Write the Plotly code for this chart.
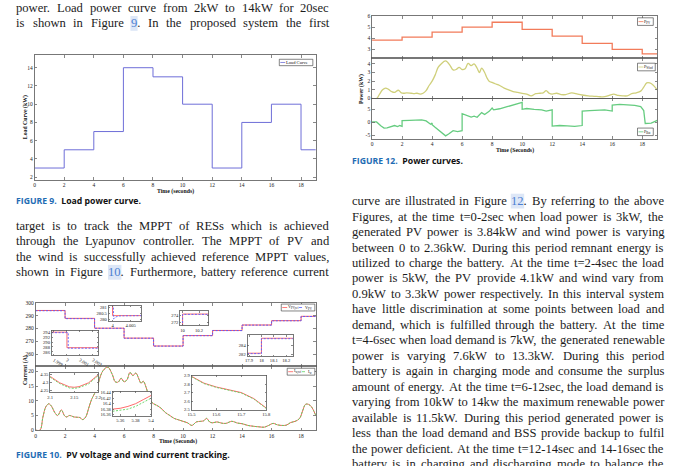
import plotly.graph_objects as go

W, H = 680, 466
SERIF = "Liberation Serif, Times New Roman, serif"
SANS = "Open Sans, Liberation Sans, sans-serif"

# ---------------- data ----------------
step_t = [0, 2, 4, 6, 8, 10, 12, 14, 16, 18, 19]
load_kw = [3, 5, 7, 14, 13, 10, 3, 8, 10, 5, 5]

vpv_ref = [294.2, 288.0, 280.3, 272.5, 266.3, 274.5, 278.5, 282.8, 286.2, 289.6, 289.6]
vpv_meas = [294.0, 287.8, 280.2, 272.4, 266.2, 274.4, 278.4, 282.7, 286.1, 289.5, 289.5]

iw_t = [0, 0.3, 0.5, 0.7, 0.9, 1.1, 1.3, 1.5, 1.75, 1.95, 2.1, 2.3, 2.6, 2.8, 3.0, 3.2, 3.4, 3.6,
        3.8, 4.0, 4.2, 4.4, 4.6, 4.9, 5.2, 5.4, 5.6, 5.8, 6.0, 6.2, 6.4, 6.6, 6.8, 7.0, 7.15, 7.3,
        7.5, 7.65, 7.8, 8.0, 8.2, 8.5, 8.8, 9.1, 9.4, 9.7, 10.0, 10.3, 10.6, 10.9, 11.2, 11.4, 11.6,
        11.8, 12.0, 12.3, 12.6, 12.9, 13.3, 13.7, 14.0, 14.4, 14.8, 15.2, 15.5, 15.8, 16.1, 16.4,
        16.7, 17.0, 17.3, 17.6, 17.9, 18.1, 18.3, 18.5, 18.7, 19.0]
iw_ref = [0, 0, 4.5, 8.0, 9.0, 8.0, 6.0, 5.0, 6.9, 5.0, 4.5, 5.0, 4.5, 4.4, 4.3, 3.6, 4.5, 7.5,
          10.5, 12.5, 15.0, 18.5, 20.5, 21.5, 19.0, 16.5, 16.4, 17.7, 16.5, 17.2, 19.7, 18.6, 19.5,
          17.5, 16.0, 16.7, 14.5, 12.0, 10.0, 9.0, 8.5, 7.5, 6.0, 5.0, 4.0, 3.5, 3.0, 2.5, 1.6, 2.8,
          3.0, 3.2, 4.0, 2.8, 2.5, 2.8, 2.4, 2.3, 3.0, 2.4, 2.2, 1.6, 1.3, 1.1, 1.0, 1.6, 2.3, 1.8,
          1.6, 1.7, 2.6, 3.0, 4.0, 6.5, 8.8, 8.8, 8.0, 5.0]

ppv_kw = [3.84, 4.1, 4.56, 5.0, 5.45, 4.8, 4.2, 3.55, 3.0, 2.6, 2.6]
pwind_kw = [0, 0, 0.5, 1.0, 1.2, 1.05, 0.8, 0.7, 0.95, 0.65, 0.6, 0.65, 0.6, 0.55, 0.6, 0.5, 0.6,
            0.9, 1.5, 2.0, 2.7, 3.6, 4.0, 4.35, 3.8, 3.3, 3.35, 3.6, 3.35, 3.45, 4.05, 3.8, 4.0,
            3.5, 3.0, 3.5, 3.0, 2.4, 2.0, 1.85, 1.7, 1.5, 1.2, 1.0, 0.8, 0.7, 0.6, 0.5, 0.3, 0.55,
            0.6, 0.65, 0.9, 0.6, 0.5, 0.6, 0.45, 0.45, 0.65, 0.5, 0.4, 0.3, 0.25, 0.2, 0.2, 0.35,
            0.5, 0.35, 0.3, 0.3, 0.55, 0.65, 0.85, 1.3, 1.8, 1.8, 1.6, 1.0]
pbat_t = [0, 0.3, 0.6, 0.8, 1.0, 1.3, 1.5, 1.7, 1.85, 2.0, 2.0, 2.5, 3.0, 3.3, 3.6, 3.9, 4.0, 4.0,
          4.2, 4.5, 4.7, 4.9, 5.1, 5.4, 5.7, 6.0, 6.0, 6.3, 6.6, 6.8, 7.0, 7.3, 7.5, 7.8, 8.0, 8.1,
          8.5, 9.0, 9.5, 10.0, 10.0, 10.3, 10.8, 11.3, 11.6, 12.0, 12.0, 12.5, 13.0, 13.5, 14.0,
          14.0, 14.5, 15.0, 15.5, 16.0, 16.0, 16.5, 17.0, 17.5, 17.9, 18.1, 18.2, 18.6, 19.0]
pbat_kw = [0.1, 0.1, -1.5, -2.3, -2.2, -1.8, -1.3, -1.7, -1.3, -1.6, 0.6, 0.7, 0.8, 0.9, 0.5, -0.8,
           -0.3, -1.0, -2.0, -3.5, -4.5, -5.3, -4.6, -3.3, -3.7, -3.3, 3.3, 2.5, 2.0, 2.3, 1.9, 3.7,
           3.0, 4.2, 5.5, 4.8, 5.2, 6.0, 7.0, 7.7, 5.0, 5.3, 5.0, 4.8, 4.3, 4.8, -1.5, -1.3, -1.4,
           -1.6, -1.3, 4.3, 4.5, 4.7, 4.8, 4.3, 6.6, 6.9, 6.8, 6.5, 6.0, 4.5, -0.5, -0.4, 0.7]

# zoom insets
insA_t_ref = [1.998, 2.0, 2.0, 2.003]
insA_v_ref = [294.0, 294.0, 287.7, 287.7]
insA_t_meas = [1.998, 2.0001, 2.0001, 2.003]
insA_v_meas = [293.8, 293.8, 287.5, 287.5]
insB_t_ref = [3.998, 4.0, 4.0, 4.009]
insB_v_ref = [281.2, 281.2, 280.3, 280.3]
insB_t_meas = [3.998, 4.0002, 4.0003, 4.001, 4.002, 4.009]
insB_v_meas = [281.2, 281.2, 280.02, 280.2, 280.28, 280.3]
insC_t = [9.9, 10.0, 10.0, 10.4]
insC_v_ref = [266.3, 266.3, 274.5, 274.5]
insC_v_meas = [266.2, 266.2, 274.4, 274.4]
insD_t = [17.8, 18.0, 18.0, 18.3]
insD_v_ref = [282.2, 282.2, 285.8, 285.8]
insD_v_meas = [282.1, 282.1, 285.7, 285.7]
insE_t = [2.1, 2.12, 2.14, 2.15, 2.16, 2.18, 2.2]
insE_ref = [4.34, 4.30, 4.275, 4.272, 4.276, 4.30, 4.35]
insE_meas = [4.335, 4.295, 4.268, 4.265, 4.27, 4.293, 4.345]
insF_t = [5.35, 5.36, 5.37, 5.38, 5.39, 5.40]
insF_ref = [16.38, 16.383, 16.39, 16.40, 16.415, 16.43]
insF_meas = [16.372, 16.375, 16.38, 16.39, 16.405, 16.42]
insG_t = [15.5, 15.55, 15.6, 15.65, 15.7, 15.75, 15.8]
insG_ref = [2.89, 2.81, 2.765, 2.735, 2.70, 2.63, 2.52]
insG_meas = [2.885, 2.805, 2.76, 2.73, 2.695, 2.625, 2.515]

time_ticks = [0, 2, 4, 6, 8, 10, 12, 14, 16, 18]
time_ticktext = ["0", "2", "4", "6", "8", "10", "12", "14", "16", "18"]

# text
top_left_lines = [
    "power. Load power curve from 2kW to 14kW for 20sec",
    "is shown in Figure {9}. In the proposed system the first",
]
mid_left_lines = [
    "target is to track the MPPT of RESs which is achieved",
    "through the Lyapunov controller. The MPPT of PV and",
    "the wind is successfully achieved reference MPPT values,",
    "shown in Figure {10}. Furthermore, battery reference current",
]
right_lines = [
    "curve are illustrated in Figure {12}. By referring to the above",
    "Figures, at the time t=0-2sec when load power is 3kW, the",
    "generated PV power is 3.84kW and wind power is varying",
    "between 0 to 2.36kW. During this period remnant energy is",
    "utilized to charge the battery. At the time t=2-4sec the load",
    "power is 5kW, the PV provide 4.1kW and wind vary from",
    "0.9kW to 3.3kW power respectively. In this interval system",
    "have little discrimination at some points between load and",
    "demand, which is fulfilled through the battery. At the time",
    "t=4-6sec when load demand is 7kW, the generated renewable",
    "power is varying 7.6kW to 13.3kW. During this period",
    "battery is again in charging mode and consume the surplus",
    "amount of energy. At the time t=6-12sec, the load demand is",
    "varying from 10kW to 14kw the maximum renewable power",
    "available is 11.5kW. During this period generated power is",
    "less than the load demand and BSS provide backup to fulfil",
    "the power deficient. At the time t=12-14sec and 14-16sec the",
    "battery is in charging and discharging mode to balance the",
]

# ---------------- helpers ----------------
def px(x):
    return x / W


def py(y):
    return 1 - y / H


TIMES_W = {' ': 250, '!': 333, ',': 250, '-': 333, '.': 250, '/': 278, ':': 278, ';': 278,
           '=': 564, '(': 333, ')': 333, '?': 444,
           'A': 722, 'B': 667, 'C': 667, 'D': 722, 'E': 611, 'F': 556, 'G': 722, 'H': 722,
           'I': 333, 'J': 389, 'K': 722, 'L': 611, 'M': 889, 'N': 722, 'O': 722, 'P': 556,
           'Q': 722, 'R': 667, 'S': 556, 'T': 611, 'U': 722, 'V': 722, 'W': 944, 'X': 722,
           'Y': 722, 'Z': 611,
           'a': 444, 'b': 500, 'c': 444, 'd': 500, 'e': 444, 'f': 333, 'g': 500, 'h': 500,
           'i': 278, 'j': 278, 'k': 500, 'l': 278, 'm': 778, 'n': 500, 'o': 500, 'p': 500,
           'q': 500, 'r': 333, 's': 389, 't': 278, 'u': 500, 'v': 500, 'w': 722, 'x': 500,
           'y': 500, 'z': 444}


def tw(s, size):
    return sum(TIMES_W.get(c, 500) for c in s) / 1000.0 * size


annotations = []
shapes = []
BODY = 12.6
TXT_COL = "#1c1c1c"
LINK_COL = "#4c7fd2"
LINK_BG = "#dde7f7"


def add_text_line(text, x0, x1, yc, justify=True):
    words = text.split(" ")
    plain = [w.replace("{", "").replace("}", "") for w in words]
    widths = [tw(w, BODY) for w in plain]
    if justify and len(words) > 1:
        gap = (x1 - x0 - sum(widths)) / (len(words) - 1)
    else:
        gap = tw(" ", BODY)
    x = x0
    for w, pw_, wd in zip(words, plain, widths):
        if "{" in w:
            pre, rest = w.split("{")
            num, post = rest.split("}")
            xn = x + tw(pre, BODY)
            wn = tw(num, BODY)
            shapes.append(dict(type="rect", xref="paper", yref="paper", x0=px(xn - 0.5),
                               x1=px(xn + wn + 0.5), y0=py(yc + 7.5), y1=py(yc - 7.5),
                               fillcolor=LINK_BG, line=dict(width=0), layer="below"))
            txt = pre + f"<span style='color:{LINK_COL}'>{num}</span>" + post
        else:
            txt = w
        annotations.append(dict(x=px(x), y=py(yc), xref="paper", yref="paper", xanchor="left",
                                yanchor="middle", text=txt, showarrow=False, borderpad=0,
                                borderwidth=0, font=dict(family=SERIF, size=BODY, color=TXT_COL)))
        x += wd + gap


def add_label(x, y, text, size=5.5, xanchor="center", yanchor="middle", angle=0, bold=False,
              family=SERIF, color="#111"):
    if bold:
        text = f"<b>{text}</b>"
    annotations.append(dict(x=px(x), y=py(y), xref="paper", yref="paper", xanchor=xanchor,
                            yanchor=yanchor, text=text, showarrow=False, textangle=angle,
                            borderpad=0, borderwidth=0,
                            font=dict(family=family, size=size, color=color)))


fig = go.Figure()
layout_axes = {}
AX_COL = "#555"


def add_axes(i, box, xr, yr, xticks=None, xtext=None, yticks=None, ytext=None,
             show_xlab=True, show_ylab=True, font=5.5, ticklen=2.5):
    xl, xr_, yt, yb = box
    sfx = "" if i == 1 else str(i)
    common = dict(showline=True, linecolor=AX_COL, linewidth=0.8, mirror="ticks",
                  ticks="inside", ticklen=ticklen, tickwidth=0.7, tickcolor=AX_COL,
                  showgrid=False, zeroline=False, fixedrange=True,
                  tickfont=dict(family=SERIF, size=font, color="#222"))
    layout_axes["xaxis" + sfx] = dict(common, domain=[px(xl), px(xr_)], range=xr,
                                      anchor="y" + sfx, tickmode="array",
                                      tickvals=xticks, ticktext=xtext,
                                      showticklabels=show_xlab)
    layout_axes["yaxis" + sfx] = dict(common, domain=[py(yb), py(yt)], range=yr,
                                      anchor="x" + sfx, tickmode="array",
                                      tickvals=yticks, ticktext=ytext,
                                      showticklabels=show_ylab)
    return ("x" + sfx, "y" + sfx)


def line(ax, x, y, color, width=1.0, dash="solid", shape="linear"):
    fig.add_trace(go.Scatter(x=x, y=y, mode="lines", xaxis=ax[0], yaxis=ax[1],
                             line=dict(color=color, width=width, dash=dash, shape=shape),
                             showlegend=False, hoverinfo="skip"))


def legend_box(x0, x1, y0, y1, items, size=4.6):
    shapes.append(dict(type="rect", xref="paper", yref="paper", x0=px(x0), x1=px(x1),
                       y0=py(y1), y1=py(y0), fillcolor="white",
                       line=dict(color="#333", width=0.6), layer="above"))
    n = len(items)
    seg = (x1 - x0) / n
    for k, (label, color, dash) in enumerate(items):
        sx = x0 + k * seg + 1
        ym = (y0 + y1) / 2
        shapes.append(dict(type="line", xref="paper", yref="paper", x0=px(sx),
                           x1=px(sx + 5), y0=py(ym), y1=py(ym),
                           line=dict(color=color, width=0.8, dash=dash), layer="above"))
        add_label(sx + 6, ym, label, size=size, xanchor="left")


RED = "#ff5a5a"
BLUE = "#5b5bff"
GREEN = "#5fd35f"
LOADC = "#6e6ed8"
PV_C = "#f27b5a"
WIND_C = "#cfcf7a"
BAT_C = "#66cc80"
DASH = "2px,1.5px"

# ---------------- Figure 9 ----------------
ax9 = add_axes(1, (31, 316, 53, 179), [0, 19], [1.72, 15.36], time_ticks, time_ticktext,
               [2, 4, 6, 8, 10, 12, 14], ["2", "4", "6", "8", "10", "12", "14"])
line(ax9, step_t, load_kw, LOADC, 1.0, shape="hv")
legend_box(279, 313, 57, 63.5, [("Load Curve", LOADC, "solid")])
add_label(22, 116, "Load Curve (kW)", size=5.8, angle=-90, bold=True)
add_label(174, 190.5, "Time (seconds)", size=5.8, bold=True)

# ---------------- Figure 10 ----------------
ax10a = add_axes(2, (32, 316, 304, 368), [0, 19], [250.4, 300], time_ticks, time_ticktext,
                 [260, 270, 280, 290, 300], ["260", "270", "280", "290", "300"], show_xlab=False)
line(ax10a, step_t, vpv_ref, RED, 1.0, shape="hv")
line(ax10a, step_t, vpv_meas, BLUE, 1.0, dash=DASH, shape="hv")
ax10b = add_axes(3, (32, 316, 368, 432.7), [0, 19], [0, 21.8], time_ticks, time_ticktext,
                 [0, 5, 10, 15, 20], ["0", "5", "10", "15", "20"])
line(ax10b, iw_t, iw_ref, RED, 1.0, shape="spline")
line(ax10b, iw_t, iw_ref, GREEN, 1.0, dash=DASH, shape="spline")
legend_box(281, 315, 305, 312, [("V<sub>PV,ref</sub>", RED, "solid"), ("V<sub>PV</sub>", BLUE, "dot")], size=4.2)
legend_box(287, 315, 370, 377, [("I<sub>w,ref</sub>", RED, "solid"), ("I<sub>w</sub>", GREEN, "dot")], size=4.2)
add_label(22, 372, "Current (A)", size=5.8, angle=-90, bold=True)
add_label(176, 444.5, "Time (Seconds)", size=5.8, bold=True)

IF = 4.6
insets = [
    (4, (48.3, 95.7, 331.7, 356.7), [1.99882, 2.00243], [284.7, 294.7],
     [1.999, 2.0, 2.001, 2.002], ["1.999", "2", "2.001", "2.002"],
     [286, 288, 290, 292, 294], ["286", "288", "290", "292", "294"],
     (insA_t_ref, insA_v_ref, insA_t_meas, insA_v_meas), BLUE),
    (5, (106, 139.3, 306.7, 322.3), [3.9989, 4.008], [279.83, 281.14],
     [4.0, 4.005], ["4", "4.005"], [280, 280.5, 281], ["280", "280.5", "281"],
     (insB_t_ref, insB_v_ref, insB_t_meas, insB_v_meas), BLUE),
    (6, (178.3, 207.3, 312.3, 326.7), [9.968, 10.316], [271.2, 275.3],
     [10.0, 10.2], ["10", "10.2"], [272, 274], ["272", "274"],
     (insC_t, insC_v_ref, insC_t, insC_v_meas), BLUE),
    (7, (246.7, 292.7, 336.7, 357.7), [17.887, 18.253], [281.5, 286.5],
     [17.9, 18.0, 18.1, 18.2], ["17.9", "18", "18.1", "18.2"], [282, 284], ["282", "284"],
     (insD_t, insD_v_ref, insD_t, insD_v_meas), BLUE),
    (8, (46.7, 95.5, 375, 394.5), [2.1, 2.2], [4.24, 4.36],
     [2.1, 2.15, 2.2], ["2.1", "2.15", "2.2"], [4.25, 4.3, 4.35], ["4.25", "4.3", "4.35"],
     (insE_t, insE_ref, insE_t, insE_meas), GREEN),
    (9, (110, 149, 393.5, 418.3), [5.35, 5.4], [16.355, 16.445],
     [5.36, 5.38, 5.4], ["5.36", "5.38", "5.4"], [16.36, 16.38, 16.4, 16.42, 16.44],
     ["16.36", "16.38", "16.4", "16.42", "16.44"],
     (insF_t, insF_ref, insF_t, insF_meas), GREEN),
    (10, (190, 265.7, 377.3, 412), [15.5, 15.8], [2.5, 2.9],
     [15.5, 15.6, 15.7, 15.8], ["15.5", "15.6", "15.7", "15.8"],
     [2.5, 2.6, 2.7, 2.8, 2.9], ["2.5", "2.6", "2.7", "2.8", "2.9"],
     (insG_t, insG_ref, insG_t, insG_meas), GREEN),
]
for idx, box, xr, yr, xt, xtt, yt, ytt, (t1, v1, t2, v2), c2 in insets:
    shapes.append(dict(type="rect", xref="paper", yref="paper", x0=px(box[0]), x1=px(box[1]),
                       y0=py(box[3]), y1=py(box[2]), fillcolor="white",
                       line=dict(width=0), layer="below"))
    ax = add_axes(idx, box, xr, yr, xt, xtt, yt, ytt, font=IF, ticklen=1.5)
    line(ax, t1, v1, RED, 0.9)
    line(ax, t2, v2, c2, 0.9, dash=DASH)

# ---------------- Figure 12 ----------------
ax12a = add_axes(11, (373, 662, 13.3, 56), [0, 19], [2.2, 6], time_ticks, time_ticktext,
                 [3, 4, 5, 6], ["3", "4", "5", "6"], show_xlab=False)
line(ax12a, step_t, ppv_kw, PV_C, 1.3, shape="hv")
ax12b = add_axes(12, (373, 662, 56, 96.7), [0, 19], [0, 4.65], time_ticks, time_ticktext,
                 [0, 1, 2, 3, 4], ["0", "1", "2", "3", "4"], show_xlab=False)
line(ax12b, iw_t, pwind_kw, WIND_C, 1.3, shape="spline")
ax12c = add_axes(13, (373, 662, 96.7, 137.7), [0, 19], [-6.5, 9.2], time_ticks, time_ticktext,
                 [-5, 0, 5], ["-5", "0", "5"])
line(ax12c, pbat_t, pbat_kw, BAT_C, 1.3)
legend_box(642, 658, 15, 22.7, [("P<sub>PV</sub>", PV_C, "solid")], size=4.2)
legend_box(642, 660, 61, 68.7, [("P<sub>Wind</sub>", WIND_C, "solid")], size=4.2)
legend_box(642, 658, 126.7, 134.3, [("P<sub>Bat</sub>", BAT_C, "solid")], size=4.2)
add_label(363, 87, "Power (kW)", size=5.8, angle=-90, bold=True)
add_label(518, 149, "Time (Seconds)", size=5.8, bold=True)

# ---------------- captions ----------------
CAP_BLUE = "#1f6db4"
def caption(x, y, num, text):
    annotations.append(dict(x=px(x), y=py(y), xref="paper", yref="paper", xanchor="left",
                            yanchor="middle", showarrow=False, borderpad=0, borderwidth=0,
                            text=f"<b><span style='color:{CAP_BLUE}'>FIGURE {num}.</span>&nbsp;&nbsp;{text}</b>",
                            font=dict(family=SANS, size=8.7, color="#111")))


caption(12.5, 200.5, 9, "Load power curve.")
caption(12.5, 458, 10, "PV voltage and wind current tracking.")
caption(353, 160, 12, "Power curves.")

# ---------------- body text ----------------
for k, t in enumerate(top_left_lines):
    add_text_line(t, 12.5, 329, 5.0 + 15.67 * k)
for k, t in enumerate(mid_left_lines):
    add_text_line(t, 12.5, 329, 226.0 + 15.6 * k)
for k, t in enumerate(right_lines):
    add_text_line(t, 353, 668.5, 200.7 + 15.67 * k)

fig.update_layout(width=W, height=H, margin=dict(l=0, r=0, t=0, b=0),
                  paper_bgcolor="white", plot_bgcolor="white", showlegend=False,
                  annotations=annotations, shapes=shapes, **layout_axes)
fig.write_html("out.html", config={"displayModeBar": False, "staticPlot": True},
               post_script="document.body.style.margin='0';document.body.style.padding='0';"
                           "document.body.style.overflow='hidden';")
